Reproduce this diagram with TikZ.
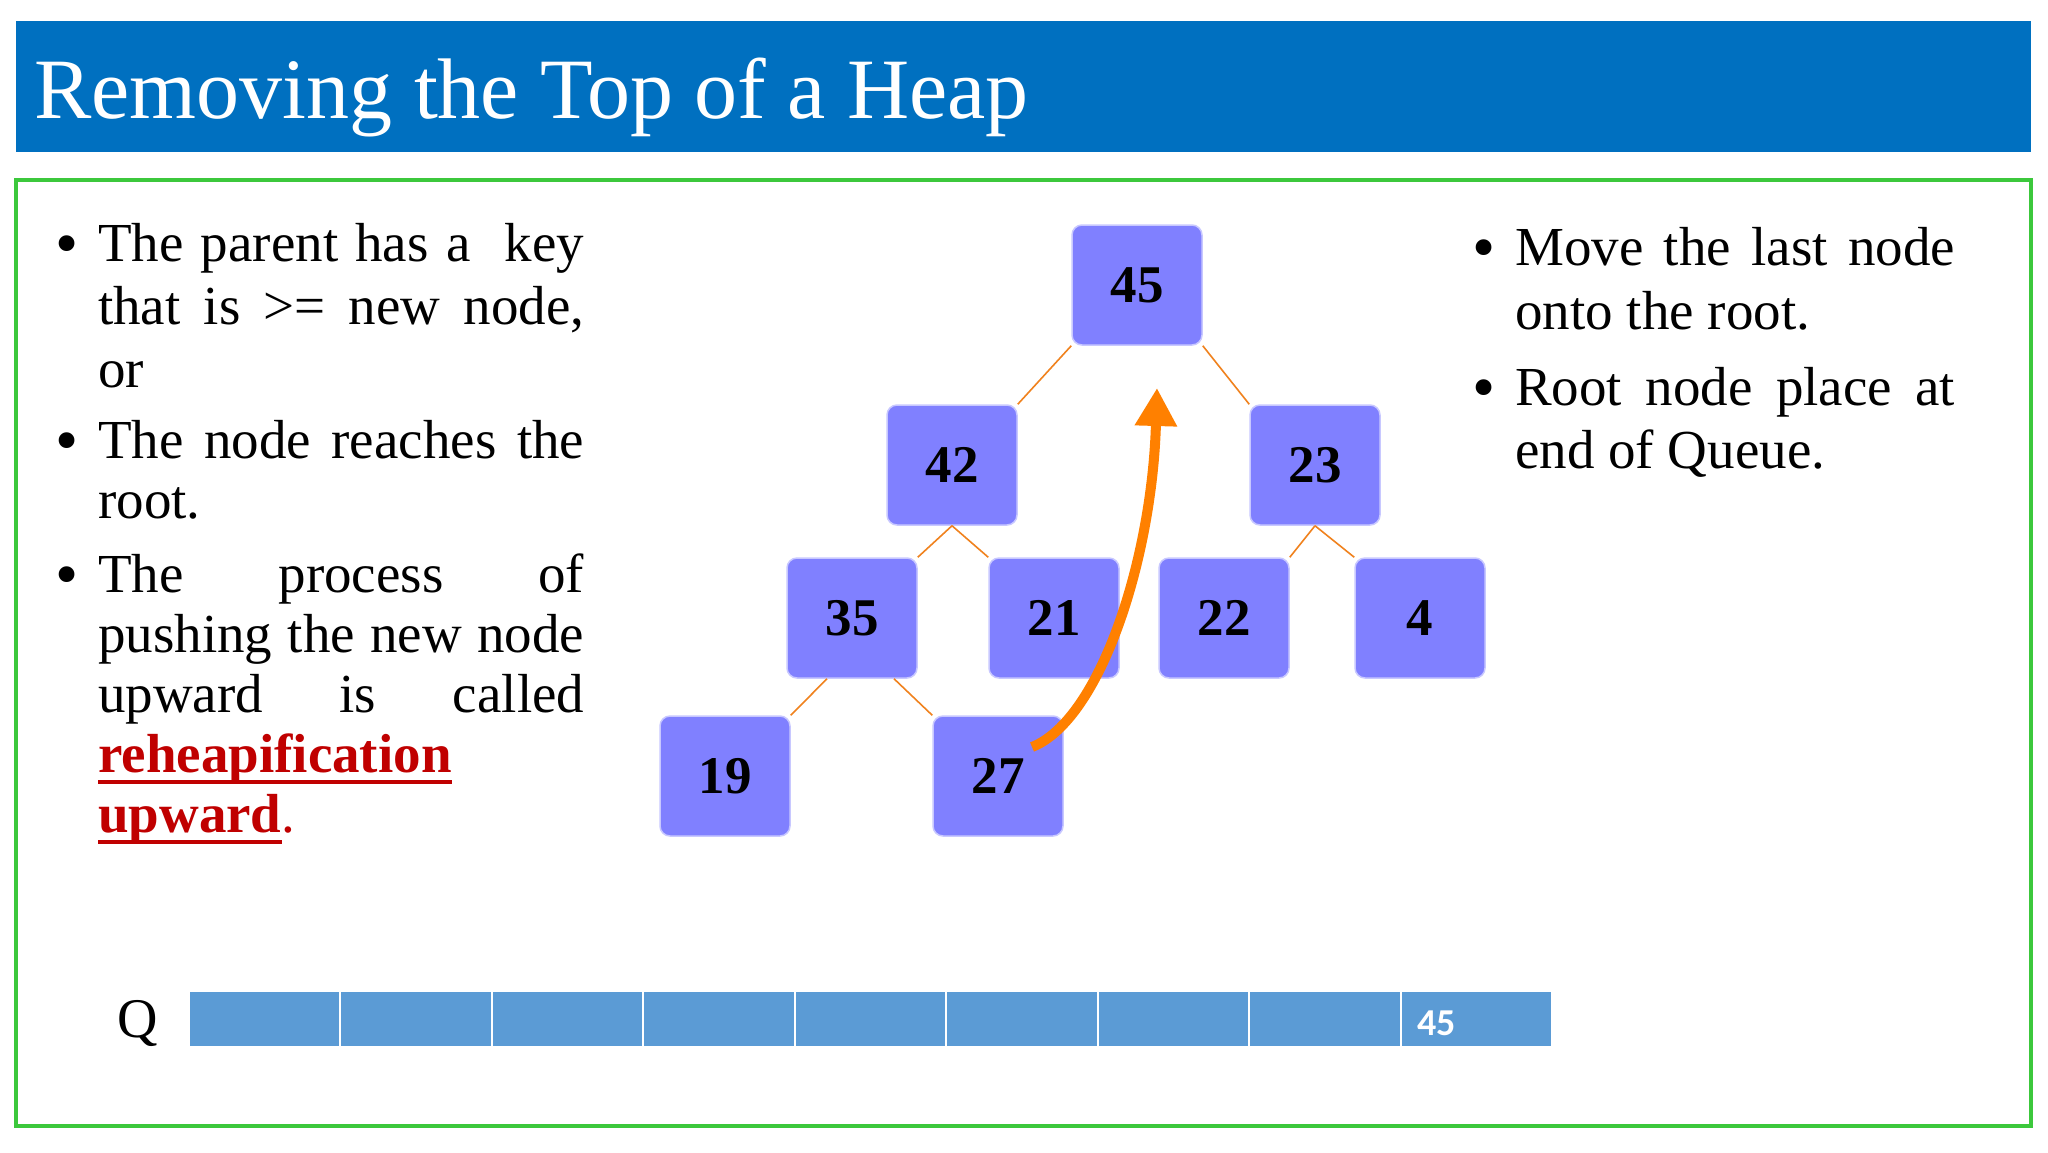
\documentclass[tikz,border=0pt]{standalone}
\usepackage{fontspec}
\setmainfont{Liberation Serif}
\newfontfamily\calib{Carlito}
\usetikzlibrary{arrows.meta,calc}
\definecolor{titleblue}{HTML}{0070C0}
\definecolor{framegreen}{HTML}{3CC83C}
\definecolor{heapfill}{HTML}{8080FF}
\definecolor{heapline}{HTML}{C8C8FF}
\definecolor{edgeor}{HTML}{F0821E}
\definecolor{arrowor}{HTML}{FF8000}
\definecolor{qblue}{HTML}{5B9BD5}
\definecolor{redtxt}{HTML}{C00000}
\newcommand\bodyfont{\fontsize{55}{62}\selectfont}
\newcommand\jline[2]{\makebox[#1][s]{#2}}
\newcommand\redul[1]{\setbox0\hbox{#1}\rlap{\color{redtxt}\rule[-12pt]{\wd0}{4pt}}\box0}
\begin{document}
\begin{tikzpicture}[x=1pt,y=-1pt,
  ln/.style={anchor=base west, inner sep=0pt, font=\bodyfont},
  bul/.style={anchor=base west, inner sep=0pt, font=\fontsize{66}{66}\selectfont},
  hnode/.style={rectangle, rounded corners=10pt, fill=heapfill, draw=heapline, line width=1.5pt,
    minimum width=130pt, minimum height=120pt, inner sep=0pt,
    font=\fontsize{53}{53}\selectfont\bfseries},
  hedge/.style={draw=edgeor, line width=1.6pt},
  qcell/.style={rectangle, fill=qblue, draw=white, line width=2pt,
    minimum width=151.44pt, minimum height=56pt, inner sep=0pt}]
\useasboundingbox (0,0) rectangle (2048,1152);
\fill[white] (0,0) rectangle (2048,1152);
% title
\node[fill=titleblue, minimum width=2015pt, minimum height=131pt, anchor=north west, inner sep=0pt] (bar) at (16,21) {};
\node[anchor=base west, inner sep=0pt, text=white, font=\fontsize{86}{90}\selectfont] (title) at (34,118) {Removing the Top of a Heap};
% frame
\draw[framegreen, line width=4pt] (16,180) rectangle (2031,1126);
% left text
\node[bul] (b1) at (55,265) {•};
\node[ln] (l1) at (98,261) {\jline{486pt}{The parent has a\ \ key}};
\node[ln] (l2) at (98,324) {\jline{486pt}{that is >= new node,}};
\node[ln] (l3) at (98,387) {or};
\node[bul] (b2) at (55,462) {•};
\node[ln] (l4) at (98,458) {\jline{486pt}{The node reaches the}};
\node[ln] (l5) at (98,518) {root.};
\node[bul] (b3) at (55,596) {•};
\node[ln] (l6) at (98,592) {\jline{486pt}{The process of}};
\node[ln] (l7) at (98,652) {\jline{486pt}{pushing the new node}};
\node[ln] (l8) at (98,712) {\jline{486pt}{upward is called}};
\node[ln] (l9) at (98,772) {\color{redtxt}\bfseries\redul{reheapification}};
\node[ln] (l10) at (98,832) {{\color{redtxt}\bfseries\redul{upward}}{\color{redtxt}.}};
% right text
\node[bul] (b4) at (1472,269) {•};
\node[ln] (r1) at (1515,265) {\jline{440pt}{Move the last node}};
\node[ln] (r2) at (1515,329) {onto the root.};
\node[bul] (b5) at (1472,409) {•};
\node[ln] (r3) at (1515,405) {\jline{440pt}{Root node place at}};
\node[ln] (r4) at (1515,468) {end of Queue.};
% heap
\node[hnode] (n45) at (1137,285) {45};
\node[hnode] (n42) at (952,465) {42};
\node[hnode] (n23) at (1315,465) {23};
\node[hnode] (n35) at (852,618) {35};
\node[hnode] (n21) at (1054,618) {21};
\node[hnode] (n22) at (1224,618) {22};
\node[hnode] (n4) at (1420,618) {4};
\node[hnode] (n19) at (725,776) {19};
\node[hnode] (n27) at (998,776) {27};
\draw[hedge] (n45.south west) -- (n42.north east);
\draw[hedge] (n45.south east) -- (n23.north west);
\draw[hedge] (n42.south) -- (n35.north east);
\draw[hedge] (n42.south) -- (n21.north west);
\draw[hedge] (n23.south) -- (n22.north east);
\draw[hedge] (n23.south) -- (n4.north west);
\draw[hedge] ($(n35.south)+(-25,0)$) -- (n19.north east);
\draw[hedge] ($(n35.south)+(42,0)$) -- (n27.north west);
% arrow
\coordinate (astart) at (1032,747);
\coordinate (atip) at (1157,388);
\draw[arrowor, line width=10pt, -{Triangle[length=38pt,width=40pt]}] (astart) .. controls (1100,720) and (1152,560) .. (atip);
% queue
\node[anchor=base west, inner sep=0pt, font=\fontsize{56}{60}\selectfont] (Q) at (117,1037) {Q};
\foreach \i in {0,...,8} {
  \node[qcell] (q\i) at ({189+151.44*\i+75.72},1019) {};
}
\node[anchor=base west, inner sep=0pt, text=white, font=\calib\bfseries\fontsize{38}{40}\selectfont] (q45) at (1417,1035) {45};
\end{tikzpicture}
\end{document}
